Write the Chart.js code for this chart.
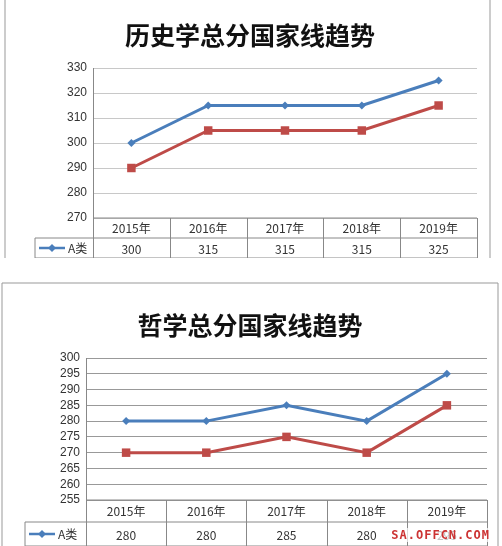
<!DOCTYPE html><html><head><meta charset="utf-8">
<script src="https://cdn.jsdelivr.net/npm/chart.js@4/dist/chart.umd.min.js"></script>
<style>
body{margin:0;background:#fff;width:502px;height:546px;overflow:hidden;position:relative;font-family:"Noto Sans CJK SC",sans-serif}
.p{position:absolute;left:0;width:502px;background:#fff}
#p1{top:0;height:258px}#p2{top:280px;height:266px}
.p canvas{position:absolute;left:0;top:0}
#wm{position:absolute;right:12px;bottom:4px;color:#c33;font:bold 12px "DejaVu Sans Mono",monospace;letter-spacing:1px;background:rgba(255,255,255,0.7)}
</style></head><body>
<div class="p" id="p1"><canvas id="c1" width="502" height="258"></canvas></div>
<div class="p" id="p2"><canvas id="c2" width="502" height="266"></canvas></div>
<div id="wm">SA.OFFCN.COM</div>
<script>
const years=["2015年","2016年","2017年","2018年","2019年"];
const histA=[300,315,315,315,325];
const histB=[290,305,305,305,315];
const philA=[280,280,285,280,295];
const philB=[270,270,275,270,285];
const histTicks={min:270,max:330,step:10};
const philTicks={min:255,max:300,step:5};
const BLUE="#4a7ebb",RED="#be4b48";

function make(id,title,A,B,tk,cfg){
  const tablePlugin={id:"tbl",afterDraw(ch){
    const c=ch.ctx,a=ch.chartArea,x=ch.scales.x;
    const sp=x.getPixelForValue(1)-x.getPixelForValue(0);
    c.save();
    c.fillStyle="#111";c.font="bold 25px 'Noto Sans CJK SC'";c.textAlign="center";c.textBaseline="middle";
    c.fillText(title,cfg.tx,cfg.ty);
    c.strokeStyle="#999";c.lineWidth=1;
    c.beginPath();c.moveTo(cfg.fl,cfg.ft);c.lineTo(cfg.fl,ch.height);c.moveTo(cfg.fr,cfg.ft);c.lineTo(cfg.fr,ch.height);
    if(cfg.top){c.moveTo(cfg.fl,cfg.ft);c.lineTo(cfg.fr,cfg.ft);}c.stroke();
    const y0=a.bottom,y1=y0+cfg.h1,y2=y1+cfg.h2;
    c.strokeStyle="#888";
    c.beginPath();
    c.moveTo(a.left,y0);c.lineTo(a.right,y0);
    c.moveTo(cfg.lx,y1);c.lineTo(a.right,y1);
    c.moveTo(cfg.lx,y2);c.lineTo(a.right,y2);
    c.moveTo(cfg.lx,y1);c.lineTo(cfg.lx,y2);
    for(let i=0;i<=years.length;i++){const xx=Math.round(a.left+i*sp)+0.5;c.moveTo(xx,y0);c.lineTo(xx,y2);}
    c.stroke();
    c.fillStyle="#333";c.font="12px 'Noto Sans CJK SC'";
    years.forEach((y,i)=>{const xx=x.getPixelForValue(i);c.fillText(y,xx,(y0+y1)/2);c.fillText(String(A[i]),xx,(y1+y2)/2+1);});
    const ym=(y1+y2)/2;
    c.strokeStyle=BLUE;c.lineWidth=2.5;c.beginPath();c.moveTo(cfg.lx+4,ym);c.lineTo(cfg.lx+30,ym);c.stroke();
    c.fillStyle=BLUE;c.beginPath();const dx=cfg.lx+17;c.moveTo(dx,ym-4);c.lineTo(dx+4,ym);c.lineTo(dx,ym+4);c.lineTo(dx-4,ym);c.fill();
    c.fillStyle="#333";c.textAlign="left";c.fillText("A类",cfg.lx+33,ym);
    c.restore();
  }};
  new Chart(document.getElementById(id),{type:"line",
    data:{labels:years,datasets:[
      {label:"A类",data:A,borderColor:BLUE,backgroundColor:BLUE,borderWidth:3,pointStyle:"rectRot",pointRadius:4,pointBorderWidth:0},
      {label:"B类",data:B,borderColor:RED,backgroundColor:RED,borderWidth:3,pointStyle:"rect",pointRadius:6,pointBorderWidth:0}]},
    options:{responsive:false,animation:false,
      layout:{padding:{left:cfg.lx,right:cfg.pr,top:cfg.pt,bottom:cfg.h1+cfg.h2}},
      plugins:{legend:{display:false},tooltip:{enabled:false}},
      scales:{x:{display:false,offset:true},
        y:{min:tk.min,max:tk.max,afterFit(s){s.width=cfg.yw;},
          ticks:{stepSize:tk.step,autoSkip:false,color:"#333",font:{size:12,family:"Liberation Sans"},padding:6},
          grid:{color:cfg.grid,drawTicks:false},border:{color:"#888"}}}},
    plugins:[tablePlugin]});
}
make("c1","历史学总分国家线趋势",histA,histB,histTicks,{lx:35,yw:58,pr:25,pt:68,h1:20,h2:20,grid:"#c8c8c8",tx:250,ty:35,fl:5,fr:490,ft:0,top:false});
make("c2","哲学总分国家线趋势",philA,philB,philTicks,{lx:25,yw:61,pr:15,pt:78,h1:22,h2:24,grid:"#999",tx:250,ty:45,fl:2,fr:498,ft:3,top:true});
</script></body></html>
